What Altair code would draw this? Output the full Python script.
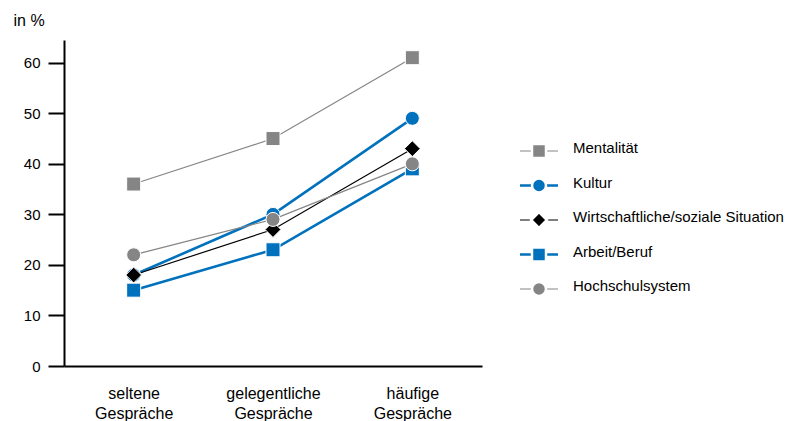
import altair as alt
import pandas as pd

categories = ["seltene Gespräche", "gelegentliche Gespräche", "häufige Gespräche"]
series = ["Mentalität", "Kultur", "Wirtschaftliche/soziale Situation", "Arbeit/Beruf", "Hochschulsystem"]
mentalitaet = [36, 45, 61]
kultur = [18, 30, 49]
wirtschaft = [18, 27, 43]
arbeit = [15, 23, 39]
hochschul = [22, 29, 40]

colors = ["#858585", "#0071BC", "#000000", "#0071BC", "#858585"]
shapes = ["square", "circle", "diamond", "square", "circle"]
widths = [1.2, 2.6, 1.2, 2.6, 1.2]
marker_sizes = [196, 196, 250, 196, 196]
legend_sizes = [240, 240, 300, 240, 240]

values = [mentalitaet, kultur, wirtschaft, arbeit, hochschul]
rows = []
for i, (s, vals) in enumerate(zip(series, values)):
    for j, (c, v) in enumerate(zip(categories, vals)):
        rows.append({"series": s, "cat": c, "value": v, "order": i})
df = pd.DataFrame(rows)
leg = pd.DataFrame({"series": series, "order": list(range(len(series)))})

FONT = "Liberation Sans"

color = alt.Color("series:N", scale=alt.Scale(domain=series, range=colors), legend=None)
fill = alt.Fill("series:N", scale=alt.Scale(domain=series, range=colors), legend=None)
shape = alt.Shape("series:N", scale=alt.Scale(domain=series, range=shapes), legend=None)
sw = alt.StrokeWidth("series:N", scale=alt.Scale(type="ordinal", domain=series, range=widths), legend=None)
msize = alt.Size("series:N", scale=alt.Scale(type="ordinal", domain=series, range=marker_sizes), legend=None)
lsize = alt.Size("series:N", scale=alt.Scale(type="ordinal", domain=series, range=legend_sizes), legend=None)

x = alt.X("cat:N", sort=categories, scale=alt.Scale(padding=0.5),
          axis=alt.Axis(title=None, labelAngle=0, labelExpr="split(datum.label, ' ')",
                        labelLineHeight=20, labelPadding=19, ticks=False, tickSize=0,
                        domainColor="black", domainWidth=2, labelFontSize=16,
                        labelFont=FONT, labelColor="black", labelBaseline="top"))
y = alt.Y("value:Q", scale=alt.Scale(domain=[0, 64.5], nice=False),
          axis=alt.Axis(values=[0, 10, 20, 30, 40, 50, 60], grid=False, tickSize=16,
                        tickWidth=2, tickColor="black", domainColor="black", domainWidth=2,
                        labelPadding=8, labelFontSize=15, labelFont=FONT, labelColor="black",
                        title="in %", titleAngle=0, titleAlign="left", titleBaseline="middle",
                        titleX=-51, titleY=-20, titleFontSize=16, titleFontWeight="normal",
                        titleFont=FONT, titleColor="black"))

lines = alt.Chart(df).mark_line().encode(
    x=x, y=y, color=color, strokeWidth=sw, detail="series:N", order="order:Q")
points = alt.Chart(df).mark_point(filled=True, opacity=1, stroke="white", strokeWidth=1).encode(
    x=x, y=y, fill=fill, shape=shape, size=msize, order="order:Q")
main = alt.layer(lines, points)

ly = alt.Y("series:N", sort=series, scale=alt.Scale(type="point", range=[111, 249], padding=0), axis=None)
leg_rule = alt.Chart(leg).mark_rule().encode(
    x=alt.value(456), x2=alt.value(494), y=ly, color=color, strokeWidth=sw)
leg_pts = alt.Chart(leg).mark_point(filled=True, opacity=1, stroke="white", strokeWidth=2.5).encode(
    x=alt.value(475), y=ly, fill=fill, shape=shape, size=lsize)
leg_txt = alt.Chart(leg).mark_text(align="left", baseline="middle", fontSize=15, font=FONT,
                                    color="black", dy=-3).encode(
    x=alt.value(509), y=ly, text="series:N")
legend = alt.layer(leg_rule, leg_pts, leg_txt)

chart = alt.layer(main, legend).resolve_scale(y="independent").properties(
    width=418, height=326,
    autosize=alt.AutoSizeParams(type="none"),
    padding={"left": 56, "top": 32, "right": 303, "bottom": 55},
).configure_view(stroke=None)

chart.save("out.html", embed_options={"renderer": "svg", "actions": False})
